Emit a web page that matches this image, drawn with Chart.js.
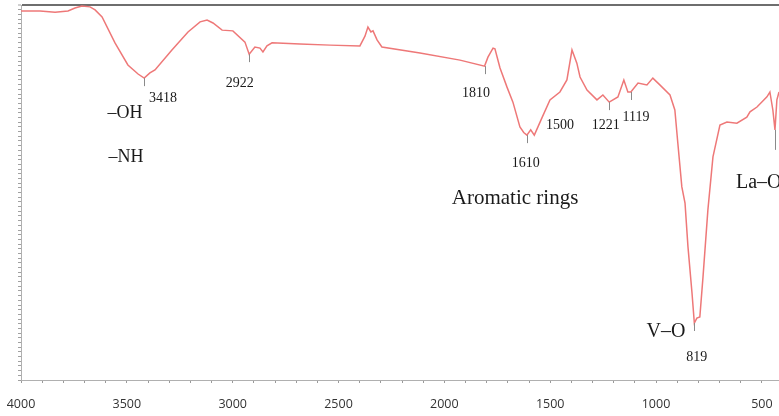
<!DOCTYPE html>
<html>
<head>
<meta charset="utf-8">
<title>FTIR spectrum</title>
<script src="https://cdn.jsdelivr.net/npm/chart.js@4.4.1/dist/chart.umd.min.js"></script>
<style>
  html, body { margin: 0; padding: 0; background: #fff; }
  #wrap { width: 779px; height: 416px; }
</style>
</head>
<body>
<div id="wrap"><canvas id="ftir" width="779" height="416"></canvas></div>
<script>
// wavenumber (cm-1) and transmittance (%)
var wavenumbers = [4000, 3910, 3839, 3778, 3745, 3712, 3674, 3650, 3617, 3556,
  3495, 3447, 3418, 3391, 3367, 3287, 3211, 3154, 3121, 3093,
  3050, 2999, 2942, 2922, 2895, 2871, 2857, 2838, 2814, 2682,
  2540, 2399, 2375, 2361, 2347, 2337, 2318, 2295, 2115, 1926,
  1810, 1794, 1770, 1761, 1737, 1704, 1676, 1643, 1625, 1610,
  1592, 1575, 1539, 1501, 1454, 1421, 1397, 1374, 1359, 1326,
  1279, 1251, 1221, 1180, 1152, 1133, 1119, 1085, 1043, 1015,
  982, 934, 911, 897, 878, 863, 849, 830, 819, 807,
  793, 778, 755, 731, 698, 665, 618, 571, 556, 523,
  476, 462, 448, 438, 429, 419];
var transmittance = [98.4, 98.4, 98.1, 98.4, 99.2, 99.7, 99.5, 98.7, 96.8, 89.9,
  84.0, 81.6, 80.5, 81.9, 82.7, 88.0, 92.8, 95.5, 96.0, 95.2,
  93.3, 93.1, 90.1, 86.9, 88.8, 88.5, 87.5, 89.1, 89.9, 89.6,
  89.3, 89.1, 91.7, 94.1, 92.8, 93.1, 90.7, 88.8, 87.2, 85.3,
  83.7, 86.1, 88.5, 88.3, 83.2, 78.1, 74.1, 67.5, 66.0, 65.3,
  66.7, 65.3, 69.9, 74.7, 76.8, 80.0, 88.0, 84.5, 80.8, 77.3,
  74.7, 76.0, 74.1, 75.5, 80.0, 76.8, 76.8, 79.2, 78.7, 80.5,
  78.7, 76.0, 72.0, 63.2, 51.5, 47.2, 35.5, 23.2, 15.2, 16.5,
  16.8, 27.5, 45.3, 59.5, 68.0, 68.8, 68.5, 70.1, 71.5, 72.8,
  75.5, 76.8, 72.0, 66.7, 74.7, 76.8];

var xTicks = [4000, 3500, 3000, 2500, 2000, 1500, 1000, 500];

// marked bands: wavenumber and curve value where the little tick hangs
var bandWn = [3418, 2922, 1810, 1610, 1221, 1119, 819, 438];
var bandVal = [80.5, 86.9, 83.7, 65.3, 74.1, 76.8, 15.2, 66.7];

// text labels placed in data units
var noteText = ["3418", "2922", "1810", "1610", "1500", "1221", "1119", "819",
  "–OH", "–NH", "Aromatic rings", "V–O", "La–O"];
var noteWn = [3329, 2966, 1851, 1615, 1454, 1237, 1095, 807,
  3509, 3504, 1666, 953, 622];
var noteVal = [75.1, 79.2, 76.5, 57.9, 68.0, 68.0, 70.1, 6.1,
  71.2, 59.5, 48.3, 12.8, 52.5];

var points = wavenumbers.map(function(w, i) {
  return { x: w, y: transmittance[i] };
});

function noteFont(t) {
  if (t === 'Aromatic rings') return '21px';
  if (t === 'V–O' || t === 'La–O') return '20px';
  if (t.charAt(0) === '–') return '18px';
  return '14px';
}

var notesPlugin = {
  id: 'notes',
  afterDatasetsDraw: function(chart) {
    var ctx = chart.ctx;
    var xs = chart.scales.x, ys = chart.scales.y;
    ctx.save();
    // small hanging ticks under the bands
    ctx.strokeStyle = '#8a8a8a';
    ctx.lineWidth = 1;
    bandWn.forEach(function(w, i) {
      var px = Math.round(xs.getPixelForValue(w)) + 0.5;
      var py = ys.getPixelForValue(bandVal[i]);
      ctx.beginPath();
      ctx.moveTo(px, py);
      ctx.lineTo(px, py + (i === bandWn.length - 1 ? 20 : 8));
      ctx.stroke();
    });
    ctx.fillStyle = '#1a1a1a';
    ctx.textBaseline = 'middle';
    noteText.forEach(function(t, i) {
      ctx.font = noteFont(t) + ' "Liberation Serif", serif';
      ctx.textAlign = t === 'La–O' ? 'left' : 'center';
      ctx.fillText(t, xs.getPixelForValue(noteWn[i]), ys.getPixelForValue(noteVal[i]));
    });
    ctx.restore();
  }
};

var minorX = [];
for (var v = 500; v <= 4000; v += 100) minorX.push(v);
var minorY = [];
for (var k = 0; k <= 80; k++) minorY.push(k * 1.25);

new Chart(document.getElementById('ftir'), {
  type: 'line',
  data: {
    datasets: [{
      data: points,
      borderColor: '#ee7878',
      borderWidth: 1.5,
      pointRadius: 0,
      tension: 0,
      fill: false
    }]
  },
  options: {
    responsive: false,
    animation: false,
    layout: { padding: { top: 5, right: 0, left: 0, bottom: 0 } },
    plugins: { legend: { display: false }, tooltip: { enabled: false } },
    scales: {
      x: {
        type: 'linear',
        reverse: true,
        min: 419,
        max: 4000,
        afterBuildTicks: function(scale) {
          scale.ticks = minorX.map(function(v) { return { value: v }; });
        },
        afterFit: function(scale) { scale.height = 36; },
        ticks: {
          autoSkip: false,
          maxRotation: 0,
          padding: 14,
          color: '#333',
          font: { family: 'Open Sans', size: 12.5 },
          callback: function(v) { return xTicks.indexOf(v) >= 0 ? String(v) : ''; }
        },
        grid: { drawOnChartArea: false, tickLength: 3, color: '#9a9a9a' },
        border: { color: '#b0b0b0', width: 1 }
      },
      y: {
        min: 0,
        max: 100,
        afterBuildTicks: function(scale) {
          scale.ticks = minorY.map(function(v) { return { value: v }; });
        },
        afterFit: function(scale) { scale.width = 21; },
        ticks: { display: false },
        grid: {
          drawOnChartArea: true,
          tickLength: 3,
          color: function(c) { return c.tick && c.tick.value === 100 ? '#6e6e6e' : 'rgba(0,0,0,0)'; },
          lineWidth: function(c) { return c.tick && c.tick.value === 100 ? 2 : 1; },
          tickColor: '#a0a0a0',
          tickWidth: 1
        },
        border: { color: '#b0b0b0', width: 1 }
      }
    }
  },
  plugins: [notesPlugin]
});
</script>
</body>
</html>
